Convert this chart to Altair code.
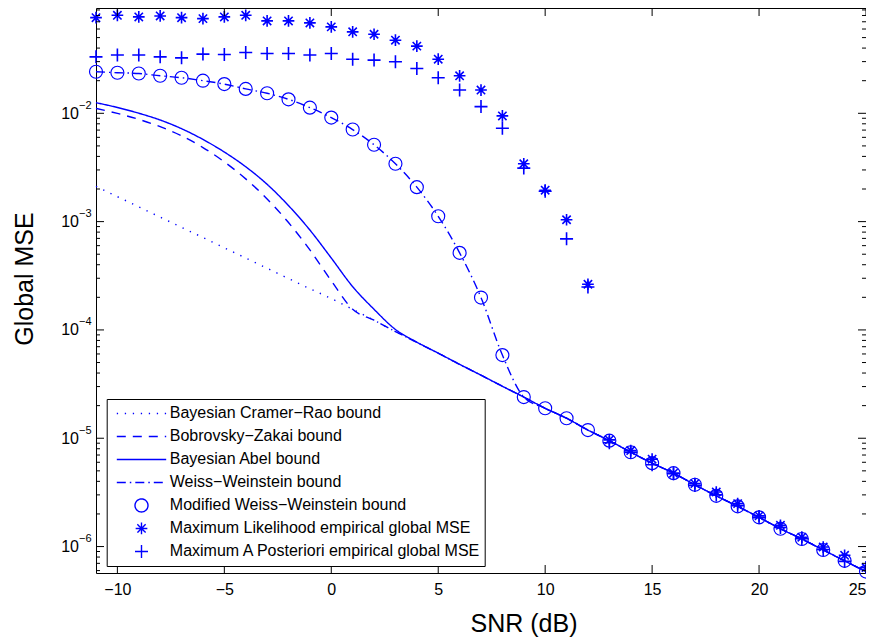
import altair as alt
import pandas as pd

F = "Liberation Sans"
BLUE = "#0000ff"

# ---------------- data ----------------
snr = list(range(-11, 26))

names = [
    "Bayesian Cramer\u2212Rao bound",
    "Bobrovsky\u2212Zakai bound",
    "Bayesian Abel bound",
    "Weiss\u2212Weinstein bound",
    "Modified Weiss\u2212Weinstein bound",
    "Maximum Likelihood empirical global MSE",
    "Maximum A Posteriori empirical global MSE",
]

bcrb = [2.12e-3, 1.70e-3, 1.37e-3, 1.10e-3, 8.85e-4, 7.13e-4, 5.73e-4, 4.61e-4,
        3.71e-4, 2.98e-4, 2.40e-4, 1.95e-4, 1.55e-4, 1.23e-4, 9.66e-5, 7.67e-5,
        6.10e-5, 4.81e-5, 3.82e-5, 3.02e-5, 2.40e-5, 1.89e-5, 1.53e-5, 1.19e-5,
        9.5e-6, 7.43e-6, 5.89e-6, 4.76e-6, 3.72e-6, 2.94e-6, 2.35e-6, 1.86e-6,
        1.46e-6, 1.175e-6, 9.3e-7, 7.38e-7, 5.87e-7]

bzb = [1.109e-2, 9.98e-3, 8.79e-3, 7.52e-3, 6.19e-3, 4.83e-3, 3.56e-3, 2.48e-3,
       1.62e-3, 9.80e-4, 5.48e-4, 2.84e-4, 1.55e-4, 1.23e-4, 9.66e-5, 7.67e-5,
       6.10e-5, 4.81e-5, 3.82e-5, 3.02e-5, 2.40e-5, 1.89e-5, 1.53e-5, 1.19e-5,
       9.5e-6, 7.43e-6, 5.89e-6, 4.76e-6, 3.72e-6, 2.94e-6, 2.35e-6, 1.86e-6,
       1.46e-6, 1.175e-6, 9.3e-7, 7.38e-7, 5.87e-7]

bab = [1.253e-2, 1.132e-2, 1.002e-2, 8.67e-3, 7.21e-3, 5.74e-3, 4.39e-3, 3.21e-3,
       2.21e-3, 1.406e-3, 8.36e-4, 4.61e-4, 2.51e-4, 1.55e-4, 1.01e-4, 7.71e-5,
       6.10e-5, 4.81e-5, 3.82e-5, 3.02e-5, 2.40e-5, 1.89e-5, 1.53e-5, 1.19e-5,
       9.5e-6, 7.43e-6, 5.89e-6, 4.76e-6, 3.72e-6, 2.94e-6, 2.35e-6, 1.86e-6,
       1.46e-6, 1.175e-6, 9.3e-7, 7.38e-7, 5.87e-7]

wwb = [0.0242, 0.0237, 0.0233, 0.0222, 0.0213, 0.0200, 0.0186, 0.0168,
       0.0153, 0.01346, 0.01128, 0.00913, 0.00708, 0.00512, 0.00342, 0.00208,
       0.00112, 5.15e-4, 1.99e-4, 5.86e-5, 2.40e-5, 1.89e-5, 1.53e-5, 1.19e-5,
       9.5e-6, 7.43e-6, 5.89e-6, 4.76e-6, 3.72e-6, 2.94e-6, 2.35e-6, 1.86e-6,
       1.46e-6, 1.175e-6, 9.3e-7, 7.38e-7, 5.87e-7]

mwwb = [0.0242, 0.0237, 0.0233, 0.0222, 0.0213, 0.0200, 0.0186, 0.0168,
        0.0153, 0.01346, 0.01128, 0.00913, 0.00708, 0.00512, 0.00342, 0.00208,
        0.00112, 5.15e-4, 1.99e-4, 5.86e-5, 2.40e-5, 1.89e-5, 1.53e-5, 1.19e-5,
        9.5e-6, 7.43e-6, 5.89e-6, 4.76e-6, 3.72e-6, 2.94e-6, 2.35e-6, 1.86e-6,
        1.46e-6, 1.175e-6, 9.3e-7, 7.38e-7, 5.87e-7]

ml = [0.0764, 0.0803, 0.0776, 0.0792, 0.0764, 0.0748, 0.0776, 0.0803,
      0.0713, 0.0713, 0.0683, 0.0628, 0.0565, 0.0537, 0.0473, 0.0417,
      0.0316, 0.0222, 0.0164, 0.00946, 0.00342, 0.00195, 0.00104, 2.64e-4,
      9.66e-6, 7.69e-6, 6.41e-6, 4.76e-6, 3.81e-6, 3.19e-6, 2.49e-6, 1.92e-6,
      1.57e-6, 1.22e-6, 9.9e-7, 8.3e-7, 6.4e-7]

map_ = [0.0332, 0.0345, 0.0345, 0.0332, 0.0325, 0.0352, 0.0349, 0.0364,
        0.0356, 0.0356, 0.0345, 0.0356, 0.0316, 0.0310, 0.0299, 0.0259,
        0.0213, 0.0164, 0.01153, 0.00728, 0.00312, 0.00191, 6.93e-4, 2.49e-4,
        9.1e-6, 7.4e-6, 5.7e-6, 4.7e-6, 3.66e-6, 3.0e-6, 2.38e-6, 1.85e-6,
        1.5e-6, 1.18e-6, 9.4e-7, 7.3e-7, 6.4e-7]

x_ticks = [-10, -5, 0, 5, 10, 15, 20, 25]
y_major = [1e-6, 1e-5, 1e-4, 1e-3, 1e-2]
y_exp_labels = ["\u22126", "\u22125", "\u22124", "\u22123", "\u22122"]
mantissas = [2, 3, 4, 5, 6, 7, 8, 9]
decades = [1e-7, 1e-6, 1e-5, 1e-4, 1e-3, 1e-2]
y_domain = [5.7e-7, 0.0938]
x_domain = [-11, 25]

# ---------------- tables ----------------
line_series = [bcrb, bzb, bab, wwb]
lines_df = pd.DataFrame({
    "snr": snr * 4,
    "mse": sum(line_series, []),
    "series": sum([[names[i]] * len(snr) for i in range(4)], []),
})
circ_df = pd.DataFrame({"snr": snr, "mse": mwwb, "series": [names[4]] * len(snr)})
emp_df = pd.DataFrame({
    "snr": snr * 2,
    "mse": ml + map_,
    "series": [names[5]] * len(snr) + [names[6]] * len(snr),
})
xt_df = pd.DataFrame({"snr": x_ticks})
ymaj_df = pd.DataFrame({"mse": y_major, "exp": y_exp_labels})
ymin_df = pd.DataFrame({"mse": [m * d for d in decades for m in mantissas
                                if y_domain[0] <= m * d <= y_domain[1]]})

W, H = 770, 565
LEG_FS = 16

LINE = "M-3.8,0H3.8"
STAR = "M-0.9,0H0.9M0,-0.9V0.9M-0.64,-0.64L0.64,0.64M-0.64,0.64L0.64,-0.64"
PLUS = "M-1,0H1M0,-1V1"
shape_range = [LINE, LINE, LINE, LINE, "circle", STAR, PLUS]
dash_range = [[1.3, 6.7], [9, 7], [1, 0], [9, 4, 1.5, 4], [1, 0], [1, 0], [1, 0]]

legend = alt.Legend(
    title=None, orient="none", legendX=10.7, legendY=391, direction="vertical",
    padding=3, strokeColor="black", fillColor="white",
    labelFont=F, labelFontSize=LEG_FS, labelColor="black", labelLimit=600,
    clipHeight=22.9, rowPadding=0, symbolSize=169, symbolStrokeWidth=1.4,
    symbolStrokeColor=BLUE, symbolFillColor="transparent",
    symbolOffset=23.8, labelOffset=20.3,
)

xs = alt.Scale(domain=x_domain, nice=False, zero=False)
ys = alt.Scale(type="log", domain=y_domain, nice=False)
x_axis = alt.Axis(values=x_ticks, labelFontSize=16, labelPadding=8, labelFont=F,
                  title="SNR (dB)", titleFontSize=25, titleFont=F,
                  titleX=427.5, titleY=58, titleAlign="center",
                  titleBaseline="alphabetic", titleFontWeight="normal")
y_axis = alt.Axis(values=y_major, labelExpr="'10'", labelFontSize=16,
                  labelPadding=17.5, labelFont=F,
                  title="Global MSE", titleFontSize=25, titleFont=F,
                  titleAngle=270, titleX=-63.5, titleY=270.5, titleAlign="center",
                  titleBaseline="alphabetic", titleFontWeight="normal")
X = alt.X("snr:Q", scale=xs, axis=x_axis)
Y = alt.Y("mse:Q", scale=ys, axis=y_axis)
SHAPE = alt.Shape("series:N", scale=alt.Scale(domain=names, range=shape_range),
                  legend=legend)

lines = alt.Chart(lines_df).mark_line(color=BLUE, strokeWidth=1.4,
                                      interpolate="monotone").encode(
    x=X, y=Y,
    strokeDash=alt.StrokeDash("series:N", scale=alt.Scale(domain=names, range=dash_range),
                              legend=legend),
    detail="series:N",
)
circles = alt.Chart(circ_df).mark_point(color=BLUE, filled=False, size=169,
                                        strokeWidth=1.15, opacity=1).encode(
    x=X, y=Y, shape=SHAPE)
empirical = alt.Chart(emp_df).mark_point(color=BLUE, filled=False, size=169,
                                         strokeWidth=1.6, opacity=1).encode(
    x=X, y=Y, shape=SHAPE)

tick_bot = alt.Chart(xt_df).mark_rule(color="black", strokeWidth=1).encode(
    x=X, y=alt.value(H), y2=alt.value(H - 8))
tick_top = alt.Chart(xt_df).mark_rule(color="black", strokeWidth=1).encode(
    x=X, y=alt.value(0), y2=alt.value(8))
ymaj_l = alt.Chart(ymaj_df).mark_rule(color="black", strokeWidth=1).encode(
    y=Y, x=alt.value(0), x2=alt.value(8))
ymaj_r = alt.Chart(ymaj_df).mark_rule(color="black", strokeWidth=1).encode(
    y=Y, x=alt.value(W), x2=alt.value(W - 8))
ymin_l = alt.Chart(ymin_df).mark_rule(color="black", strokeWidth=1).encode(
    y=Y, x=alt.value(0), x2=alt.value(4))
ymin_r = alt.Chart(ymin_df).mark_rule(color="black", strokeWidth=1).encode(
    y=Y, x=alt.value(W), x2=alt.value(W - 4))
exps = alt.Chart(ymaj_df).mark_text(align="right", baseline="alphabetic", dy=-4.5,
                                    fontSize=11, font=F, color="black").encode(
    y=Y, x=alt.value(-4.5), text="exp:N")

chart = alt.layer(
    lines, circles, empirical, tick_bot, tick_top, ymaj_l, ymaj_r, ymin_l, ymin_r, exps
).properties(
    width=W, height=H,
    autosize=alt.AutoSizeParams(type="none"),
    padding={"left": 88, "top": 0, "right": 0, "bottom": 64},
).configure_view(
    stroke="black", strokeWidth=1
).configure_axis(
    grid=False, ticks=False, tickSize=0, domain=False, labelColor="black", titleColor="black"
).configure_legend(
    labelFont=F, labelFontSize=LEG_FS, labelColor="black", labelLimit=600
)

chart.save("out.html", embed_options={"renderer": "svg", "actions": False})
